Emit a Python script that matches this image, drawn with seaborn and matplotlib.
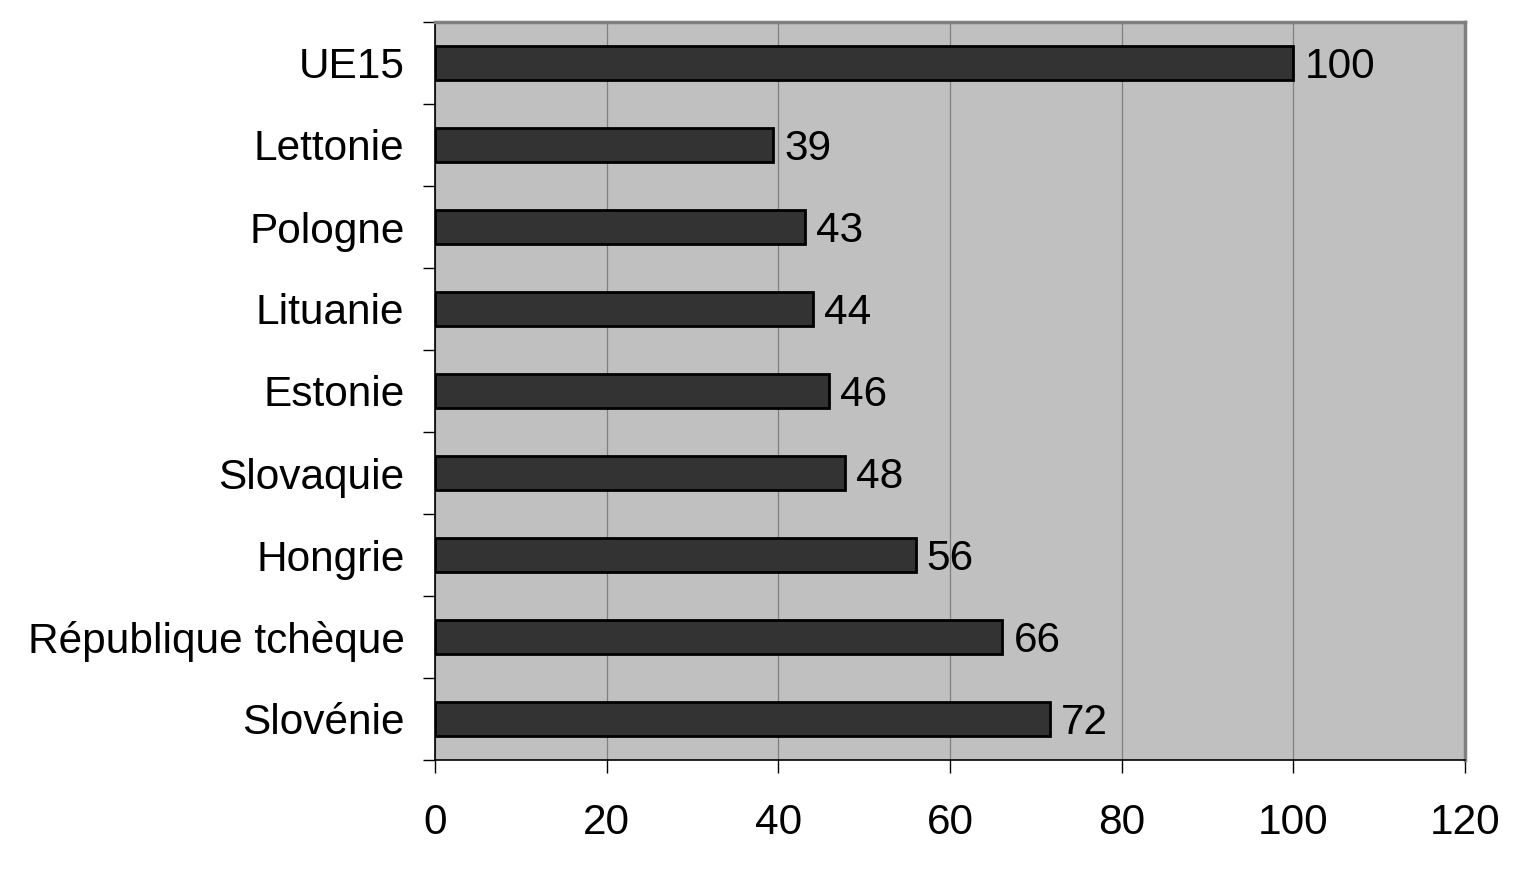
import numpy as np
import pandas as pd
import matplotlib
matplotlib.use("Agg")
import matplotlib.pyplot as plt
import seaborn as sns

# donnees (indice UE15 = 100)
pays = ['UE15', 'Lettonie', 'Pologne', 'Lituanie', 'Estonie',
        'Slovaquie', 'Hongrie', 'République tchèque', 'Slovénie']
valeurs = [100.0, 39.4, 43.1, 44.0, 45.9, 47.8, 56.0, 66.1, 71.6]

df = pd.DataFrame({'pays': pays, 'valeur': valeurs})

sns.set_style("white")
plt.rcParams['font.family'] = ['Liberation Sans', 'DejaVu Sans']
taille = 30.5

fig = plt.figure(figsize=(15.2, 8.82), dpi=100)
ax = fig.add_axes([435 / 1520, 1 - 760 / 882, 1030 / 1520, 738 / 882])
ax.set_facecolor('#c0c0c0')

sns.barplot(data=df, x='valeur', y='pays', orient='h', color='#333333',
            saturation=1, width=0.41, edgecolor='black', linewidth=2, ax=ax)

# etiquettes de valeurs
for cont in ax.containers:
    txts = ax.bar_label(cont, labels=[f'{v:.0f}' for v in valeurs], padding=8,
                        fontsize=taille, color='black')
    for t in txts:
        t.set_va('center_baseline')

ax.set_xlim(0, 120)
ax.set_xticks(np.arange(0, 121, 20))
ax.set_ylim(len(pays) - 0.5, -0.5)
ax.set_xlabel('')
ax.set_ylabel('')

# graduations aux limites des categories
ax.set_yticks(np.arange(-0.5, len(pays), 1), minor=True)
ax.tick_params(axis='y', which='major', length=0, pad=22, labelsize=taille,
               labelcolor='black')
ax.tick_params(axis='y', which='minor', length=9, width=1, color='black', left=True)
ax.tick_params(axis='x', which='major', length=9, width=1, color='black',
               bottom=True, pad=22, labelsize=taille, labelcolor='black')

ax.grid(axis='x', color='#808080', linewidth=0.9)
ax.set_axisbelow(True)

for s in ['top', 'right']:
    ax.spines[s].set_color('#808080')
    ax.spines[s].set_linewidth(2.5)
for s in ['left', 'bottom']:
    ax.spines[s].set_color('black')
    ax.spines[s].set_linewidth(1.2)

fig.savefig('out.png', dpi=100, facecolor='white')
